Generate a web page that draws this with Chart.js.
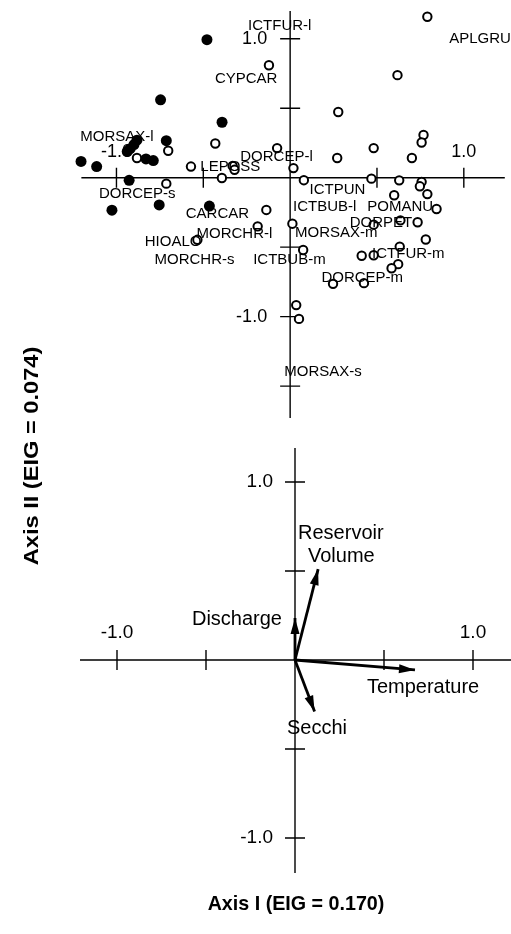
<!DOCTYPE html>
<html><head><meta charset="utf-8">
<script src="https://cdn.jsdelivr.net/npm/chart.js@4/dist/chart.umd.min.js"></script>
<style>
html,body{margin:0;padding:0;background:#fff;width:511px;height:934px;overflow:hidden}
canvas{position:absolute;left:0;top:0}
</style></head><body>
<canvas id="topChart" width="511" height="934"></canvas>
<canvas id="botChart" width="511" height="934"></canvas>
<script>
// ---------- species scores (top panel) ----------
const filledX = [-0.479,-0.746,-0.392,-0.713,-0.882,-0.899,-0.921,-0.938,-1.204,-1.114,-0.830,-0.788,-0.927,-1.026,-0.754,-0.465];
const filledY = [0.993,0.560,0.399,0.266,0.270,0.238,0.209,0.188,0.117,0.080,0.135,0.123,-0.019,-0.234,-0.196,-0.204];

const openX = [-0.122,-0.431,-0.702,-0.882,-0.571,-0.331,-0.320,-0.393,-0.075,0.019,0.079,-0.713,
  0.790,0.618,0.277,0.768,0.757,0.481,0.271,0.701,0.468,0.628,0.757,0.747,0.790,0.599,
  -0.137,0.843,0.734,0.635,0.481,0.013,0.781,0.631,0.481,0.412,0.075,0.622,0.584,0.425,0.247,
  -0.187,-0.534,0.035,0.051];
const openY = [0.809,0.246,0.194,0.142,0.080,0.085,0.057,-0.002,0.213,0.069,-0.018,-0.043,
  1.158,0.738,0.473,0.307,0.253,0.213,0.142,0.142,-0.007,-0.019,-0.030,-0.062,-0.118,-0.126,
  -0.232,-0.225,-0.321,-0.307,-0.338,-0.331,-0.445,-0.496,-0.558,-0.562,-0.520,-0.622,-0.652,-0.759,-0.764,
  -0.350,-0.447,-0.917,-1.016];

const speciesNames = ["ICTFUR-l","APLGRU","CYPCAR","MORSAX-l","DORCEP-l","LEPOSS","DORCEP-s","ICTPUN",
  "ICTBUB-l","POMANU","CARCAR","DORPET","MORCHR-l","MORSAX-m","HIOALO","ICTFUR-m","MORCHR-s",
  "ICTBUB-m","DORCEP-m","MORSAX-s"];
const speciesNameX = [-0.242,0.916,-0.433,-1.208,-0.287,-0.517,-1.101,0.112,
  0.017,0.444,-0.601,0.343,-0.539,0.028,-0.837,0.472,-0.781,
  -0.213,0.180,-0.034];
const speciesNameY = [1.092,1.000,0.709,0.291,0.149,0.078,-0.113,-0.085,
  -0.213,-0.213,-0.262,-0.326,-0.404,-0.397,-0.461,-0.546,-0.589,
  -0.589,-0.723,-1.397];

// ---------- environmental vectors (bottom panel) ----------
const envNames = ["Temperature","Reservoir Volume","Discharge","Secchi"];
const envX = [0.674,0.130,0.000,0.110];
const envY = [-0.056,0.510,0.236,-0.290];
const envLabelText = ["Reservoir","Volume","Discharge","Temperature","Secchi"];
const envLabelX = [0.017,0.073,-0.579,0.404,-0.045];
const envLabelY = [0.713,0.579,0.225,-0.152,-0.382];

// ---------- axes ----------
const topXTicks = [-1,-0.5,0.5,1];
const topYTicks = [1,0.5,-0.5,-1,-1.5];
const botXTicks = [-1,-0.5,0.5,1];
const botYTicks = [1,0.5,-0.5,-1];
const tickLabelValues = [-1,1];
const tickLabels = ["-1.0","1.0"];
const xTitle = "Axis I (EIG = 0.170)";
const yTitle = "Axis II (EIG = 0.074)";

const FONT = '"Liberation Sans", Arial, sans-serif';

const crossAxes = {
  id:'crossAxes',
  beforeDatasetsDraw(chart, args, o){
    const {ctx, scales:{x,y}} = chart;
    const x0 = x.getPixelForValue(0), y0 = y.getPixelForValue(0);
    ctx.save();
    ctx.strokeStyle='#000'; ctx.lineWidth=o.lineWidth;
    ctx.beginPath();
    ctx.moveTo(x.getPixelForValue(o.xFrom), y0); ctx.lineTo(x.right, y0);
    ctx.moveTo(x0, y.getPixelForValue(o.yFrom)); ctx.lineTo(x0, y.getPixelForValue(o.yTo));
    o.xTicks.forEach(v=>{const p=x.getPixelForValue(v); ctx.moveTo(p,y0-o.tick); ctx.lineTo(p,y0+o.tick);});
    o.yTicks.forEach(v=>{const p=y.getPixelForValue(v); ctx.moveTo(x0-o.tick,p); ctx.lineTo(x0+o.tick,p);});
    ctx.stroke();
    ctx.fillStyle='#000'; ctx.font=o.font;
    ctx.textAlign='center'; ctx.textBaseline='middle';
    tickLabelValues.forEach((v,i)=>ctx.fillText(tickLabels[i], x.getPixelForValue(v), y0-o.xLabelOffset));
    ctx.textAlign='right';
    tickLabelValues.forEach((v,i)=>ctx.fillText(tickLabels[i], x0-o.yLabelOffset, y.getPixelForValue(v)));
    ctx.restore();
  }
};

const textLabels = {
  id:'textLabels',
  afterDatasetsDraw(chart, args, o){
    const {ctx, scales:{x,y}} = chart;
    ctx.save();
    ctx.fillStyle='#000'; ctx.font=o.font;
    ctx.textAlign='left'; ctx.textBaseline='middle';
    o.names.forEach((n,i)=>ctx.fillText(n, x.getPixelForValue(o.xs[i]), y.getPixelForValue(o.ys[i])));
    ctx.restore();
  }
};

const arrowHeads = {
  id:'arrowHeads',
  afterDatasetsDraw(chart, args, o){
    if(!o.enabled) return;
    const {ctx, scales:{x,y}} = chart;
    const ox = x.getPixelForValue(0), oy = y.getPixelForValue(0);
    ctx.save(); ctx.fillStyle='#000';
    envX.forEach((v,i)=>{
      const tx = x.getPixelForValue(v), ty = y.getPixelForValue(envY[i]);
      const a = Math.atan2(ty-oy, tx-ox);
      const L=o.length, W=o.halfWidth;
      ctx.beginPath();
      ctx.moveTo(tx,ty);
      ctx.lineTo(tx-L*Math.cos(a)+W*Math.sin(a), ty-L*Math.sin(a)-W*Math.cos(a));
      ctx.lineTo(tx-L*Math.cos(a)-W*Math.sin(a), ty-L*Math.sin(a)+W*Math.cos(a));
      ctx.closePath(); ctx.fill();
    });
    ctx.restore();
  }
};

const axisTitles = {
  id:'axisTitles',
  afterDraw(chart, args, o){
    if(!o.enabled) return;
    const ctx = chart.ctx;
    ctx.save();
    ctx.fillStyle='#000'; ctx.font='bold 19.7px '+FONT;
    ctx.textAlign='center'; ctx.textBaseline='middle';
    ctx.fillText(xTitle, 296, 905);
    ctx.translate(33, 456); ctx.rotate(-Math.PI/2); ctx.scale(1.2,1);
    ctx.fillText(yTitle, 0, 0);
    ctx.restore();
  }
};

const toPts = (xs, ys) => xs.map((v,i)=>({x:v, y:ys[i]}));

const common = {
  responsive:false, animation:false, events:[],
  plugins:{legend:{display:false}, tooltip:{enabled:false}}
};

new Chart(document.getElementById('topChart'), {
  type:'scatter',
  data:{datasets:[
    {label:'open', data:toPts(openX, openY), pointRadius:4.2, borderWidth:2,
     borderColor:'#000', backgroundColor:'#fff', clip:false},
    {label:'filled', data:toPts(filledX, filledY), pointRadius:5.5, borderWidth:0,
     backgroundColor:'#000', clip:false}
  ]},
  options:Object.assign({}, common, {
    layout:{padding:{left:0,right:0,top:0,bottom:504}},
    scales:{
      x:{type:'linear', display:false, min:-291/178, max:220/178},
      y:{type:'linear', display:false, min:-256/141, max:174/141}
    },
    plugins:Object.assign({}, common.plugins, {
      crossAxes:{lineWidth:1.4, xFrom:-1.202, yFrom:1.199, yTo:-1.730, xTicks:topXTicks, yTicks:topYTicks,
        tick:10, font:'18px '+FONT, xLabelOffset:26, yLabelOffset:23},
      textLabels:{font:'15px '+FONT, names:speciesNames, xs:speciesNameX, ys:speciesNameY},
      arrowHeads:{enabled:false}, axisTitles:{enabled:false}
    })
  }),
  plugins:[crossAxes, textLabels, arrowHeads, axisTitles]
});

new Chart(document.getElementById('botChart'), {
  type:'scatter',
  data:{datasets: envNames.map((n,i)=>({
    label:n, data:[{x:0,y:0},{x:envX[i], y:envY[i]}], showLine:true,
    pointRadius:0, borderWidth:2.8, borderColor:'#000', borderCapStyle:'butt', clip:false
  }))},
  options:Object.assign({}, common, {
    layout:{padding:{left:0,right:0,top:430,bottom:0}},
    scales:{
      x:{type:'linear', display:false, min:-295/178, max:216/178},
      y:{type:'linear', display:false, min:-274/178, max:230/178}
    },
    plugins:Object.assign({}, common.plugins, {
      crossAxes:{lineWidth:1.4, xFrom:-1.208, yFrom:1.191, yTo:-1.197, xTicks:botXTicks, yTicks:botYTicks,
        tick:10, font:'19px '+FONT, xLabelOffset:27, yLabelOffset:22},
      textLabels:{font:'20px '+FONT, names:envLabelText, xs:envLabelX, ys:envLabelY},
      arrowHeads:{enabled:true, length:16, halfWidth:4.5},
      axisTitles:{enabled:true}
    })
  }),
  plugins:[crossAxes, textLabels, arrowHeads, axisTitles]
});
</script>
</body></html>
